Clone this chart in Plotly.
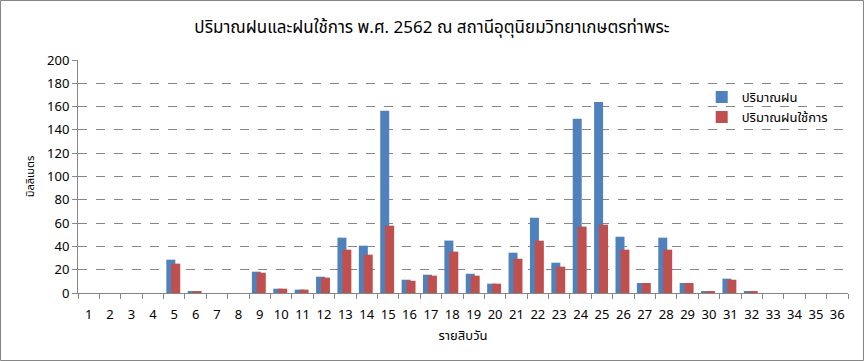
import plotly.graph_objects as go

days = [str(i) for i in range(1, 37)]
rain = [0, 0, 0, 0, 28.6, 1.1, 0, 0, 18.3, 3.7, 2.9, 14, 47.5, 40.6, 156.5, 11.4, 15.7, 45,
        16.5, 8, 34.6, 64.6, 26, 149.5, 164, 48.3, 8.6, 47.5, 8.6, 1.1, 12.3, 1.1, 0, 0, 0, 0]
eff = [0, 0, 0, 0, 25.2, 1.0, 0, 0, 17.4, 3.7, 2.9, 13.2, 37.2, 32.9, 57.8, 10.5, 14.9, 35.5,
       14.9, 8, 29.4, 44.9, 22.6, 57, 58.6, 37.2, 8.6, 37.2, 8.6, 1.1, 11.4, 1.1, 0, 0, 0, 0]

FONT = "Tahoma, 'Noto Sans Thai', 'Noto Sans', 'DejaVu Sans', sans-serif"

fig = go.Figure()
fig.add_trace(go.Bar(x=days, y=rain, name="ปริมาณฝน", marker_color="#4F81BD",
                     width=0.42, offset=-0.37, marker_line_width=0))
fig.add_trace(go.Bar(x=days, y=eff, name="ปริมาณฝนใช้การ", marker_color="#C0504D",
                     width=0.42, offset=-0.14, marker_line_width=0))

fig.update_layout(
    width=864, height=361,
    barmode="overlay",
    paper_bgcolor="white", plot_bgcolor="white",
    margin=dict(l=78, r=16, t=60, b=68, autoexpand=False),
    font=dict(family=FONT, size=13, color="black"),
    title=dict(text="ปริมาณฝนและฝนใช้การ พ.ศ. 2562 ณ สถานีอุตุนิยมวิทยาเกษตรท่าพระ",
               x=0.5, xanchor="center", y=0.925, yanchor="middle",
               font=dict(family=FONT, size=17, color="black")),
    legend=dict(x=0.81, y=0.905, xanchor="left", yanchor="top",
                bgcolor="rgba(0,0,0,0)", font=dict(size=13), tracegroupgap=4),
    showlegend=True,
    shapes=[dict(type="rect", xref="paper", yref="paper", x0=-77.5/770, x1=1+15.5/770,
                 y0=-67.5/233, y1=1+59.5/233, line=dict(color="#868686", width=1))],
)
fig.update_xaxes(
    type="category", tickson="boundaries", ticks="outside", ticklen=5, tickcolor="#868686",
    showline=True, linecolor="#868686", linewidth=1, showgrid=False,
    tickangle=0, automargin=False, ticklabelstandoff=9,
    title=dict(text="รายสิบวัน", font=dict(size=13), standoff=7),
    tickfont=dict(size=13),
)
fig.update_yaxes(
    range=[0, 200], dtick=20, ticks="outside", ticklen=5, tickcolor="#868686",
    showline=True, linecolor="#868686", linewidth=1,
    showgrid=True, gridcolor="#868686", griddash="dash", gridwidth=1,
    zeroline=False, automargin=False,
    title=dict(text="มิลลิเมตร", font=dict(size=11), standoff=10),
    tickfont=dict(size=13),
)

fig.write_html("out.html", config={"displayModeBar": False},
               post_script="document.body.style.margin='0';")
